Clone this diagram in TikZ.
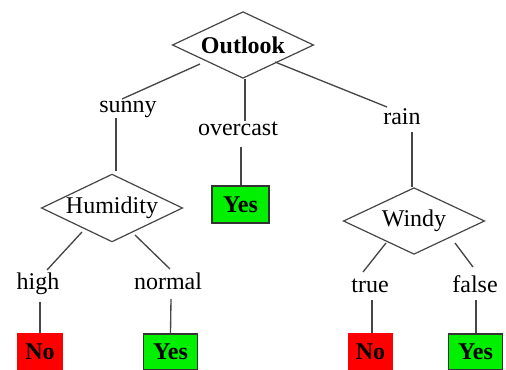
\documentclass[tikz,border=0pt]{standalone}
\usepackage{fontspec}
\setmainfont{Liberation Serif}
\usetikzlibrary{shapes.geometric,calc}
\definecolor{lin}{RGB}{70,70,70}
\definecolor{yesg}{RGB}{0,240,0}
\definecolor{nor}{RGB}{255,0,0}
\begin{document}
\begin{tikzpicture}[x=0.75pt,y=-0.75pt,
  every node/.style={font=\fontsize{18}{20}\selectfont},
  decision/.style={diamond,draw=lin,line width=0.9pt,fill=white,inner sep=0pt,shape aspect=2,minimum width=106pt,minimum height=50pt},
  lbl/.style={anchor=base,inner sep=0pt},
  yesbox/.style={draw=black!80,line width=0.8pt,fill=yesg,minimum width=41pt,minimum height=27pt,inner sep=0pt,font=\fontsize{18}{20}\selectfont\bfseries},
  nobox/.style={draw=nor,line width=0.8pt,fill=nor,minimum width=33pt,minimum height=27pt,inner sep=0pt,font=\fontsize{18}{20}\selectfont\bfseries},
  conn/.style={draw=lin,line width=1pt}]
\useasboundingbox (0,0) rectangle (506,370);
% decision nodes
\node[decision,font=\fontsize{18}{20}\selectfont\bfseries] (outlook) at (243,45) {Outlook};
\node[decision] (hum) at (112,208) {Humidity};
\node[decision] (windy) at (414,221) {Windy};
% labels
\node[lbl] (sunny) at (128,113) {sunny};
\node[lbl] (overcast) at (238,136) {overcast};
\node[lbl] (rain) at (402,125) {rain};
\node[lbl] (high) at (38,289) {high};
\node[lbl] (normal) at (168,289) {normal};
\node[lbl] (true) at (370,292) {true};
\node[lbl] (false) at (475,292) {false};
% leaves
\node[yesbox,minimum width=42.75pt,minimum height=27.75pt] (yes0) at (240.5,204.5) {Yes};
\node[nobox] (no1) at (40,352) {No};
\node[yesbox] (yes1) at (170.5,352) {Yes};
\node[nobox] (no2) at (370.5,352) {No};
\node[yesbox] (yes2) at (475.5,352) {Yes};
% connectors
\draw[conn] ($(outlook.center)+(-43,19)$) -- ($(sunny.base)+(-6,-14)$);
\draw[conn] ($(outlook.south)+(2,0)$) -- ($(overcast.base)+(7,-15)$);
\draw[conn] ($(outlook.center)+(32,17)$) -- ($(rain.base)+(-15,-18)$);
\draw[conn] ($(sunny.base)+(-12,5)$) -- ($(hum.north)+(4,-2)$);
\draw[conn] ($(overcast.base)+(3,11)$) -- ($(yes0.north)+(0.5,0)$);
\draw[conn] ($(rain.base)+(10,7)$) -- ($(windy.north)+(-2,0)$);
\draw[conn] ($(hum.center)+(-30,24)$) -- ($(high.base)+(9,-19)$);
\draw[conn] ($(hum.center)+(23,27)$) -- ($(normal.base)+(2,-20)$);
\draw[conn] ($(windy.center)+(-28,22)$) -- ($(true.base)+(-7,-20)$);
\draw[conn] ($(windy.center)+(41,22)$) -- ($(false.base)+(-2,-25)$);
\draw[conn] ($(high.base)+(2,13)$) -- (no1.north);
\draw[conn] ($(normal.base)+(3,10)$) -- (yes1.north);
\draw[conn] ($(true.base)+(2,8)$) -- ($(no2.north)+(1.5,0)$);
\draw[conn] ($(false.base)+(1,8)$) -- ($(yes2.north)+(0.5,0)$);
\end{tikzpicture}
\end{document}
